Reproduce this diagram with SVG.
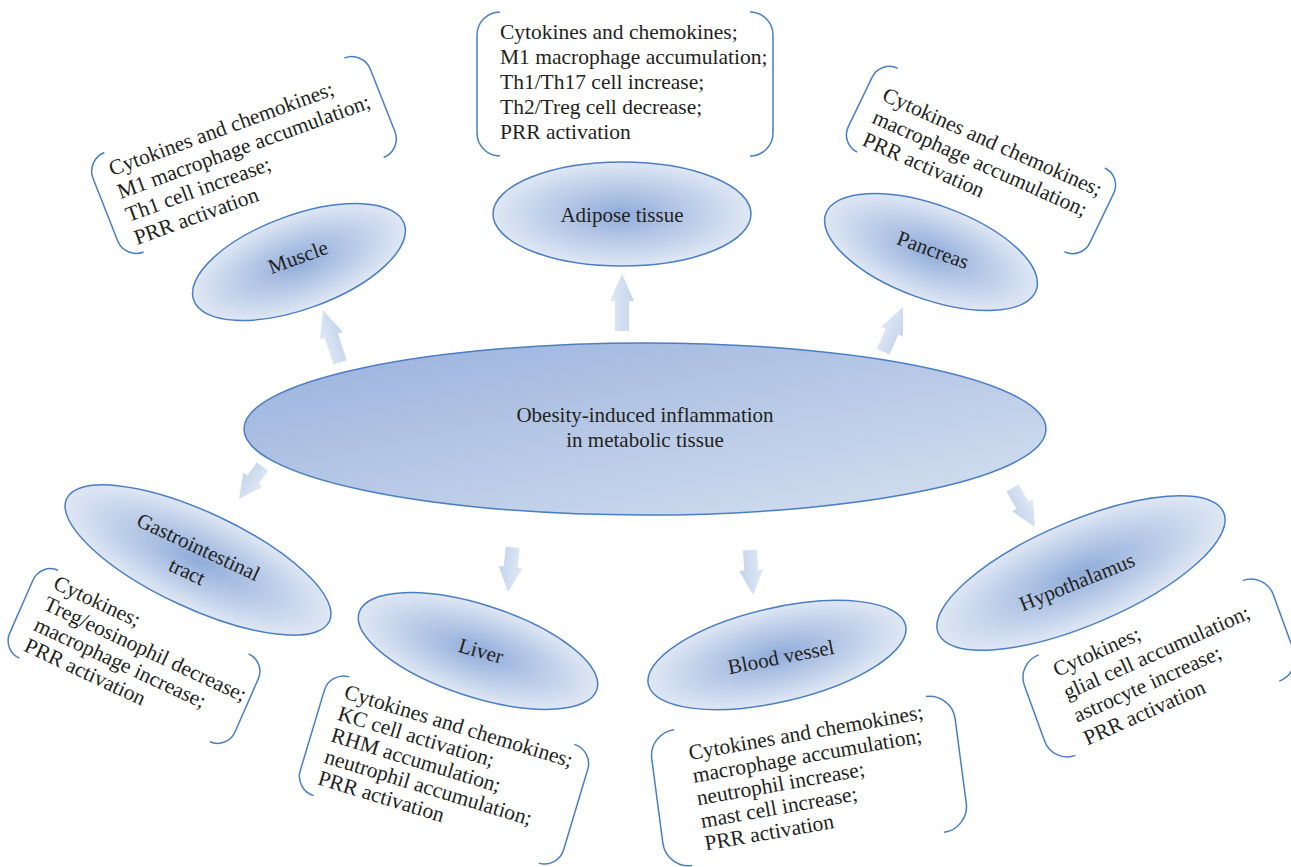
<svg xmlns="http://www.w3.org/2000/svg" width="1291" height="867" viewBox="0 0 1291 867">
<defs>
<style>
.el{stroke:#4a7ec4;stroke-width:1.5;fill:url(#rg)}
.ctr{stroke:#4a7ec4;stroke-width:1.5;fill:url(#lg)}
.br{fill:none;stroke:#4a7ec4;stroke-width:1.5}
.t{font-family:"Liberation Serif","Times New Roman",serif;font-size:21.5px;fill:#231f20}
.lbl{font-family:"Liberation Serif","Times New Roman",serif;font-size:21px;fill:#231f20;text-anchor:middle}
.arr{fill:url(#ag)}
</style>
<radialGradient id="rg" cx="50%" cy="50%" r="50%">
<stop offset="0" stop-color="#90acda"/>
<stop offset="1" stop-color="#dfe7f4"/>
</radialGradient>
<linearGradient id="lg" x1="0" y1="0" x2="1" y2="1">
<stop offset="0" stop-color="#98b0dc"/>
<stop offset="1" stop-color="#d7e2f1"/>
</linearGradient>
<linearGradient id="ag" x1="0" y1="0" x2="1" y2="0">
<stop offset="0" stop-color="#e0e9f6"/>
<stop offset="1" stop-color="#c4d4ec"/>
</linearGradient>
</defs>

<g id="connectors">
<path class="arr" transform="translate(622,274)" d="M0,0 L12,27 L7,27 L7,57 L-7,57 L-7,27 L-12,27 Z"/>
<path class="arr" transform="translate(323,310) rotate(-18)" d="M0,0 L12,27 L7,27 L7,55 L-7,55 L-7,27 L-12,27 Z"/>
<path class="arr" transform="translate(903,307) rotate(24)" d="M0,0 L12,27 L7,27 L7,49 L-7,49 L-7,27 L-12,27 Z"/>
<path class="arr" transform="translate(239,499) rotate(-144)" d="M0,0 L12,24 L7,24 L7,40 L-7,40 L-7,24 L-12,24 Z"/>
<path class="arr" transform="translate(508,592) rotate(186)" d="M0,0 L12,25 L7,25 L7,45 L-7,45 L-7,25 L-12,25 Z"/>
<path class="arr" transform="translate(753,595) rotate(176)" d="M0,0 L12,25 L7,25 L7,45 L-7,45 L-7,25 L-12,25 Z"/>
<path class="arr" transform="translate(1035,527) rotate(150)" d="M0,0 L12,25 L7,25 L7,45 L-7,45 L-7,25 L-12,25 Z"/>
</g>

<g id="center">
<ellipse class="ctr" cx="645" cy="429" rx="401" ry="86"/>
<text class="lbl" x="645" y="422" font-size="22.3">Obesity-induced inflammation</text>
<text class="lbl" x="645" y="447" font-size="22.3">in metabolic tissue</text>
</g>

<g id="adipose">
<ellipse class="el" cx="622" cy="214" rx="129" ry="52"/>
<text class="lbl" x="622" y="222">Adipose tissue</text>
<g transform="translate(625,84)">
<path class="br" d="M-125,-72 A23,23 0 0 0 -148,-49 L-148,49 A23,23 0 0 0 -125,72"/>
<path class="br" d="M125,-72 A23,23 0 0 1 148,-49 L148,49 A23,23 0 0 1 125,72"/>
</g>
<text class="t" x="500" y="39">Cytokines and chemokines;</text>
<text class="t" x="500" y="64">M1 macrophage accumulation;</text>
<text class="t" x="500" y="89">Th1/Th17 cell increase;</text>
<text class="t" x="500" y="114">Th2/Treg cell decrease;</text>
<text class="t" x="500" y="139">PRR activation</text>
</g>

<g id="muscle">
<ellipse class="el" cx="0" cy="0" rx="112" ry="47" transform="translate(299,262) rotate(-20)"/>
<text class="lbl" transform="translate(298,257) rotate(-20)" x="0" y="7">Muscle</text>
<g transform="translate(244,155) rotate(-21.5)">
<path class="br" d="M-129,-53.5 A20,20 0 0 0 -149,-33.5 L-149,33.5 A20,20 0 0 0 -129,53.5"/>
<path class="br" d="M129,-53.5 A20,20 0 0 1 149,-33.5 L149,33.5 A20,20 0 0 1 129,53.5"/>
</g>
<g transform="translate(112,176) rotate(-20)">
<text class="t" x="0" y="0">Cytokines and chemokines;</text>
<text class="t" x="0" y="24.5">M1 macrophage accumulation;</text>
<text class="t" x="0" y="49">Th1 cell increase;</text>
<text class="t" x="0" y="73.5">PRR activation</text>
</g>
</g>

<g id="pancreas">
<ellipse class="el" cx="0" cy="0" rx="112" ry="47" transform="translate(931,252) rotate(20)"/>
<text class="lbl" transform="translate(933,250) rotate(20)" x="0" y="7">Pancreas</text>
<g transform="translate(981,160) rotate(25.7)">
<path class="br" d="M-115,-46.5 A19,19 0 0 0 -134,-27.5 L-134,27.5 A19,19 0 0 0 -115,46.5"/>
<path class="br" d="M115,-46.5 A19,19 0 0 1 134,-27.5 L134,27.5 A19,19 0 0 1 115,46.5"/>
</g>
<g transform="translate(881,100) rotate(24)">
<text class="t" x="0" y="0">Cytokines and chemokines;</text>
<text class="t" x="0" y="24.5">macrophage accumulation;</text>
<text class="t" x="0" y="49">PRR activation</text>
</g>
</g>

<g id="gastrointestinal">
<ellipse class="el" cx="0" cy="0" rx="145" ry="48" transform="translate(198,560) rotate(25)"/>
<g transform="translate(198,560) rotate(25)">
<text class="lbl" x="-5" y="-5">Gastrointestinal</text>
<text class="lbl" x="-5" y="22">tract</text>
</g>
<g transform="translate(134,656) rotate(23.7)">
<path class="br" d="M-104,-48 A19,19 0 0 0 -123,-29 L-123,29 A19,19 0 0 0 -104,48"/>
<path class="br" d="M104,-48 A19,19 0 0 1 123,-29 L123,29 A19,19 0 0 1 104,48"/>
</g>
<g transform="translate(52,588) rotate(25)">
<text class="t" x="0" y="0">Cytokines;</text>
<text class="t" x="0" y="23">Treg/eosinophil decrease;</text>
<text class="t" x="0" y="46">macrophage increase;</text>
<text class="t" x="0" y="69">PRR activation</text>
</g>
</g>

<g id="liver">
<ellipse class="el" cx="0" cy="0" rx="125" ry="46" transform="translate(478,651) rotate(18)"/>
<text class="lbl" transform="translate(481,651) rotate(16)" x="0" y="7">Liver</text>
<g transform="translate(444,770) rotate(16.7)">
<path class="br" d="M-117.5,-62 A20,20 0 0 0 -137.5,-42 L-137.5,42 A20,20 0 0 0 -117.5,62"/>
<path class="br" d="M117.5,-62 A20,20 0 0 1 137.5,-42 L137.5,42 A20,20 0 0 1 117.5,62"/>
</g>
<g transform="translate(343,698) rotate(17)">
<text class="t" x="0" y="0">Cytokines and chemokines;</text>
<text class="t" x="0" y="22.5">KC cell activation;</text>
<text class="t" x="0" y="45">RHM accumulation;</text>
<text class="t" x="0" y="67.5">neutrophil accumulation;</text>
<text class="t" x="0" y="90">PRR activation</text>
</g>
</g>

<g id="blood-vessel">
<ellipse class="el" cx="0" cy="0" rx="132" ry="47" transform="translate(777,655) rotate(-13)"/>
<text class="lbl" transform="translate(781,657) rotate(-11)" x="0" y="7">Blood vessel</text>
<g transform="translate(809,781) rotate(-7.5)">
<path class="br" d="M-127,-68.5 A26,26 0 0 0 -153,-42.5 L-153,42.5 A26,26 0 0 0 -127,68.5"/>
<path class="br" d="M127,-68.5 A26,26 0 0 1 153,-42.5 L153,42.5 A26,26 0 0 1 127,68.5"/>
</g>
<g transform="translate(690,760) rotate(-10)">
<text class="t" x="0" y="0">Cytokines and chemokines;</text>
<text class="t" x="0" y="23">macrophage accumulation;</text>
<text class="t" x="0" y="46">neutrophil increase;</text>
<text class="t" x="0" y="69">mast cell increase;</text>
<text class="t" x="0" y="92">PRR activation</text>
</g>
</g>

<g id="hypothalamus">
<ellipse class="el" cx="0" cy="0" rx="155" ry="52" transform="translate(1081,573) rotate(-23)"/>
<text class="lbl" transform="translate(1077,582) rotate(-22)" x="0" y="7">Hypothalamus</text>
<g transform="translate(1159,668) rotate(-20)">
<path class="br" d="M-108.5,-53.5 A24,24 0 0 0 -132.5,-29.5 L-132.5,29.5 A24,24 0 0 0 -108.5,53.5"/>
<path class="br" d="M108.5,-53.5 A24,24 0 0 1 132.5,-29.5 L132.5,29.5 A24,24 0 0 1 108.5,53.5"/>
</g>
<g transform="translate(1057,677) rotate(-24)">
<text class="t" x="0" y="0">Cytokines;</text>
<text class="t" x="0" y="25">glial cell accumulation;</text>
<text class="t" x="0" y="50">astrocyte increase;</text>
<text class="t" x="0" y="75">PRR activation</text>
</g>
</g>
</svg>
